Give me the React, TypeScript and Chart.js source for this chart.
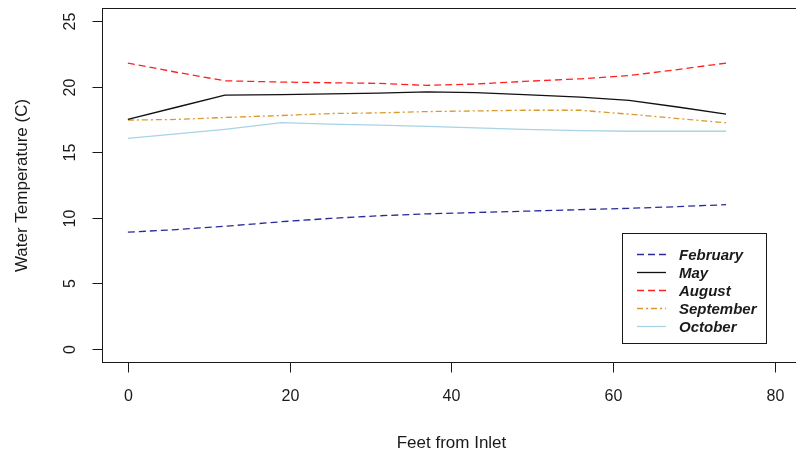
import React, { useEffect, useRef } from "react";
import { Chart, registerables } from "chart.js";

Chart.register(...registerables);

// Distance along the channel (feet from the inlet)
const feet = [0, 6, 12, 19, 25, 31, 37, 43, 49, 56, 62, 68, 74];

// Water temperature (C) per month at each distance
const february = [8.9, 9.1, 9.35, 9.7, 9.95, 10.15, 10.3, 10.4, 10.5, 10.62, 10.72, 10.85, 11.0];
const may = [17.5, 18.43, 19.35, 19.4, 19.45, 19.5, 19.6, 19.55, 19.4, 19.2, 18.95, 18.45, 17.9];
const august = [21.8, 21.1, 20.45, 20.35, 20.3, 20.25, 20.1, 20.2, 20.4, 20.6, 20.85, 21.3, 21.8];
const september = [17.45, 17.5, 17.65, 17.8, 17.95, 18.0, 18.1, 18.15, 18.2, 18.2, 17.9, 17.57, 17.25];
const october = [16.05, 16.4, 16.75, 17.25, 17.15, 17.07, 16.97, 16.85, 16.75, 16.65, 16.6, 16.6, 16.6];

const xTicks = [0, 20, 40, 60, 80];
const yTicks = [0, 5, 10, 15, 20, 25];

const xTitle = "Feet from Inlet";
const yTitle = "Water Temperature (C)";

const FONT = "'Liberation Sans', Arial, Helvetica, sans-serif";
const INK = "#1a1a1a";

const series = [
  { label: "February", values: february, color: "#2a2a9a", dash: [7, 4] },
  { label: "May", values: may, color: "#111111", dash: [] as number[] },
  { label: "August", values: august, color: "#ff2020", dash: [7, 4] },
  { label: "September", values: september, color: "#d99a2b", dash: [6, 3, 2, 3] },
  { label: "October", values: october, color: "#a8d4e6", dash: [] as number[] },
];

// Draws the box, outward ticks, rotated y labels, titles and the boxed legend.
const baseAxesPlugin = {
  id: "baseAxes",
  afterDatasetsDraw(chart: any) {
    const { ctx, scales } = chart;
    const xs = scales.x;
    const ys = scales.y;
    const left = Math.round(xs.getPixelForValue(-3.2)) + 0.5;
    const right = Math.round(xs.getPixelForValue(83.2)) + 0.5;
    const top = Math.round(ys.getPixelForValue(26)) + 0.5;
    const bottom = Math.round(ys.getPixelForValue(-1)) + 0.5;

    ctx.save();
    ctx.strokeStyle = INK;
    ctx.lineWidth = 1;
    ctx.setLineDash([]);
    ctx.strokeRect(left, top, right - left, bottom - top);

    // x axis
    ctx.fillStyle = INK;
    ctx.font = `16px ${FONT}`;
    ctx.textAlign = "center";
    ctx.textBaseline = "middle";
    for (const v of xTicks) {
      const px = Math.round(xs.getPixelForValue(v)) + 0.5;
      ctx.beginPath();
      ctx.moveTo(px, bottom);
      ctx.lineTo(px, bottom + 10);
      ctx.stroke();
      ctx.fillText(String(v), px, bottom + 34);
    }

    // y axis
    for (const v of yTicks) {
      const py = Math.round(ys.getPixelForValue(v)) + 0.5;
      ctx.beginPath();
      ctx.moveTo(left, py);
      ctx.lineTo(left - 10, py);
      ctx.stroke();
      ctx.save();
      ctx.translate(left - 32, py);
      ctx.rotate(-Math.PI / 2);
      ctx.fillText(String(v), 0, 0);
      ctx.restore();
    }

    // titles
    ctx.font = `17px ${FONT}`;
    ctx.fillText(xTitle, (left + right) / 2, 443);
    ctx.save();
    ctx.translate(22, (top + bottom) / 2);
    ctx.rotate(-Math.PI / 2);
    ctx.fillText(yTitle, 0, 0);
    ctx.restore();

    // legend
    const lx = 622.5;
    const ly = 233.5;
    const lw = 144;
    const lh = 110;
    ctx.fillStyle = "#ffffff";
    ctx.fillRect(lx, ly, lw, lh);
    ctx.strokeStyle = INK;
    ctx.strokeRect(lx, ly, lw, lh);
    ctx.font = `italic bold 15px ${FONT}`;
    ctx.textAlign = "left";
    chart.data.datasets.forEach((ds: any, i: number) => {
      const cy = Math.round(254 + i * 18.1) + 0.5;
      ctx.strokeStyle = ds.borderColor;
      ctx.lineWidth = ds.borderWidth;
      ctx.setLineDash(ds.borderDash || []);
      ctx.beginPath();
      ctx.moveTo(637, cy);
      ctx.lineTo(666, cy);
      ctx.stroke();
      ctx.setLineDash([]);
      ctx.fillStyle = INK;
      ctx.fillText(ds.label, 679, cy + 1);
    });
    ctx.restore();
  },
};

export default function App() {
  const canvasRef = useRef<HTMLCanvasElement | null>(null);

  useEffect(() => {
    if (!canvasRef.current) return;
    const chart = new Chart(canvasRef.current, {
      type: "line",
      data: {
        datasets: series.map((s) => ({
          label: s.label,
          data: feet.map((f, i) => ({ x: f, y: s.values[i] })),
          borderColor: s.color,
          backgroundColor: s.color,
          borderWidth: 1.3,
          borderDash: s.dash,
          pointRadius: 0,
          tension: 0,
          fill: false,
        })),
      },
      options: {
        animation: false,
        responsive: false,
        maintainAspectRatio: false,
        devicePixelRatio: 1,
        layout: { padding: { left: 102, top: 8, right: 0, bottom: 96 } },
        plugins: { legend: { display: false }, tooltip: { enabled: false } },
        scales: {
          x: { type: "linear", min: -3.2, max: 82.65, display: false },
          y: { type: "linear", min: -1, max: 26, display: false },
        },
      },
      plugins: [baseAxesPlugin],
    });
    return () => chart.destroy();
  }, []);

  return (
    <div style={{ position: "fixed", left: 0, top: 0, width: 796, height: 458, background: "#fff" }}>
      <canvas ref={canvasRef} width={796} height={458} style={{ display: "block" }} />
    </div>
  );
}
